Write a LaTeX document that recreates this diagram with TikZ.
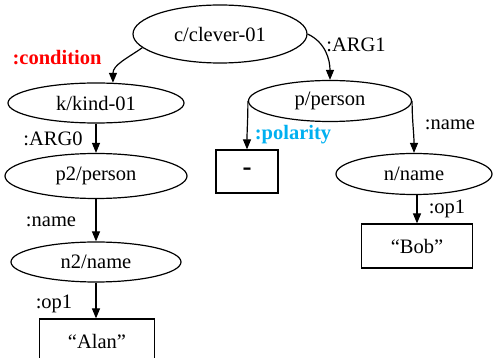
\documentclass[tikz,border=0pt]{standalone}
\usepackage{fontspec}
\setmainfont{Liberation Serif}
\usepackage{xcolor}
\usetikzlibrary{shapes.geometric, arrows.meta}

\definecolor{condred}{RGB}{255,0,0}
\definecolor{polblue}{RGB}{0,176,240}

\begin{document}
\begin{tikzpicture}[x=1pt, y=1pt,
		font=\fontsize{20.5}{24}\selectfont,
		concept/.style={draw, ellipse, line width=1.2pt, inner sep=0pt},
		const/.style={draw, rectangle, line width=1.2pt, inner sep=0pt},
		rel/.style={line width=1.2pt, -{Triangle[length=10pt, width=8pt]}},
		lab/.style={inner sep=0pt}]
			\useasboundingbox (0,0) rectangle (493,-358);

			% concepts
			\node [concept, minimum width=174, minimum height=58] (clever) at (220,-34) {c/clever-01};
			\node [concept, minimum width=176, minimum height=40] (kind) at (96,-103) {k/kind-01};
			\node [concept, minimum width=182, minimum height=45] (person2) at (96,-176) {p2/person};
			\node [concept, minimum width=170, minimum height=40] (name2) at (96,-262) {n2/name};
			\node [concept, minimum width=163, minimum height=41] (person) at (330,-101) {p/person};
			\node [concept, minimum width=156, minimum height=41] (name1) at (414,-174) {n/name};

			% constants
			\node [const, minimum width=115, minimum height=44] (alan) at (97,-341) {``Alan''};
			\node [const, minimum width=62, minimum height=43] (neg) at (247,-171.5) {\raisebox{-3pt}{\fontsize{27}{30}\selectfont\bfseries -}};
			\node [const, minimum width=111, minimum height=44] (bob) at (417,-246) {``Bob''};

			% relations
			\draw [rel] (clever.190) to [out = -145, in = 90] (kind.50);
			\draw [rel] (clever.east) to [out = -25, in = 90] (person.north);
			\draw [rel] (kind.south) -- (person2.north);
			\draw [rel] (person2.south) -- (name2.north);
			\draw [rel] (name2.south) -- (name2.south |- alan.north);
			\draw [rel] (person.west) to [out = -90, in = 90] (neg.north);
			\draw [rel] (person.east) to [out = -90, in = 90] (name1.north);
			\draw [rel] (name1.south -| bob.north) -- (bob.north);

			% labels
			\node [lab, condred, font=\fontsize{20.5}{24}\selectfont\bfseries] (lcond) at (57,-58) {:condition};
			\node [lab] (larg1) at (356,-45) {:ARG1};
			\node [lab] (larg0) at (53,-139) {:ARG0};
			\node [lab] (lname2) at (51,-222) {:name};
			\node [lab] (lop2) at (54,-304) {:op1};
			\node [lab, polblue, font=\fontsize{20.5}{24}\selectfont\bfseries] (lpol) at (293,-135) {:polarity};
			\node [lab] (lname1) at (450,-125) {:name};
			\node [lab] (lop1) at (447,-209) {:op1};
		\end{tikzpicture}
\end{document}
